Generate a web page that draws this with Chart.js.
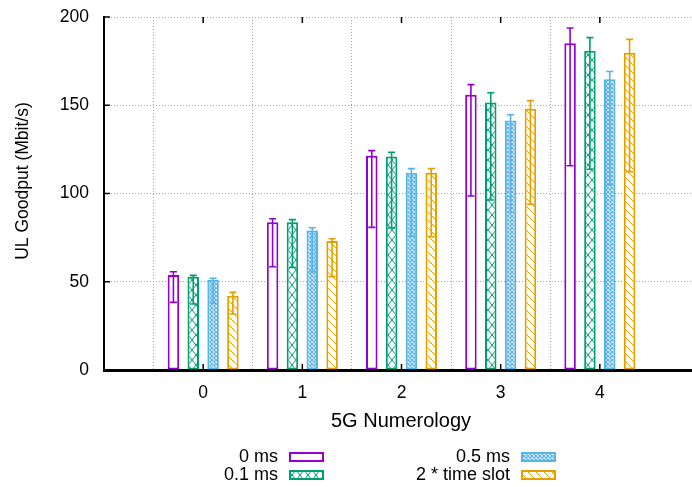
<!DOCTYPE html>
<html>
<head>
<meta charset="utf-8">
<script src="https://cdn.jsdelivr.net/npm/chart.js@4.4.1/dist/chart.umd.min.js"></script>
<style>
  html, body { margin: 0; padding: 0; background: #fff; overflow: hidden; }
  #wrap { position: relative; width: 712px; height: 487px; }
</style>
</head>
<body>
<div id="wrap"><canvas id="goodputChart" width="712" height="487"></canvas></div>
<script>
// UL goodput per 5G numerology, bars with min/max error bars
const numerologies = ['0', '1', '2', '3', '4'];
const seriesNames = ['0 ms', '0.1 ms', '0.5 ms', '2 * time slot'];
const seriesColors = ['#9400d3', '#009e73', '#56b4e9', '#e69f00'];
const yTicks = [0, 50, 100, 150, 200];

const goodput0 = [53.8, 83.7, 121.4, 156.0, 185.1];
const low0 = [38.3, 58.5, 80.8, 98.6, 115.7];
const high0 = [55.7, 85.7, 124.3, 161.7, 193.8];

const goodput01 = [52.8, 83.7, 120.9, 151.6, 180.9];
const low01 = [37.4, 58.1, 80.5, 96.3, 113.7];
const high01 = [53.6, 85.2, 123.3, 157.1, 188.3];

const goodput05 = [51.2, 79.1, 111.8, 141.4, 164.7];
const low05 = [37.8, 55.7, 75.9, 89.7, 104.8];
const high05 = [52.0, 80.6, 114.1, 144.6, 169.1];

const goodputSlot = [42.1, 73.1, 111.8, 148.0, 179.8];
const lowSlot = [31.7, 52.9, 75.5, 93.9, 112.4];
const highSlot = [44.0, 74.4, 114.1, 152.6, 187.3];

const FONT = '"Liberation Sans", Arial, sans-serif';
const values = [goodput0, goodput01, goodput05, goodputSlot];
const lows = [low0, low01, low05, lowSlot];
const highs = [high0, high01, high05, highSlot];
const fills = ['empty', 'cross', 'dense', 'diag'];

// empty categories at both ends give the -1 .. 5 range
const labels = ['', ...numerologies, ''];
const pad = arr => [null, ...arr, null];

function makePattern(kind, color) {
  if (kind === 'empty') return '#ffffff';
  const c = document.createElement('canvas');
  const size = { cross: [8, 10], dense: [4, 4], diag: [8, 8] }[kind];
  c.width = size[0]; c.height = size[1];
  const g = c.getContext('2d');
  g.fillStyle = '#fff';
  g.fillRect(0, 0, c.width, c.height);
  g.strokeStyle = color;
  g.lineWidth = kind === 'dense' ? 1.3 : 1;
  g.beginPath();
  if (kind === 'cross' || kind === 'dense') {
    g.moveTo(0, 0); g.lineTo(c.width, c.height);
    g.moveTo(c.width, 0); g.lineTo(0, c.height);
  } else {
    g.moveTo(-1, -1); g.lineTo(9, 9);
    g.moveTo(-1, 7); g.lineTo(1, 9);
    g.moveTo(7, -1); g.lineTo(9, 1);
  }
  g.stroke();
  return g.createPattern(c, 'repeat');
}

const errorBars = {
  id: 'errorBars',
  afterDatasetsDraw(chart) {
    const ctx = chart.ctx;
    const y = chart.scales.y;
    ctx.save();
    chart.data.datasets.forEach((ds, i) => {
      chart.getDatasetMeta(i).data.forEach((el, j) => {
        if (j === 0 || j === labels.length - 1) return;
        const yl = y.getPixelForValue(lows[i][j - 1]);
        const yh = y.getPixelForValue(highs[i][j - 1]);
        ctx.strokeStyle = seriesColors[i];
        ctx.lineWidth = 1.6;
        ctx.beginPath();
        ctx.moveTo(el.x, yl); ctx.lineTo(el.x, yh);
        ctx.moveTo(el.x - 3.5, yl); ctx.lineTo(el.x + 3.5, yl);
        ctx.moveTo(el.x - 3.5, yh); ctx.lineTo(el.x + 3.5, yh);
        ctx.stroke();
      });
    });
    ctx.restore();
  }
};

const frame = {
  id: 'frame',
  afterDraw(chart) {
    const ctx = chart.ctx;
    const area = chart.chartArea;
    const x = chart.scales.x, y = chart.scales.y;
    ctx.save();
    // inward tick marks
    ctx.strokeStyle = '#000';
    ctx.lineWidth = 1.5;
    ctx.beginPath();
    yTicks.forEach(v => {
      const py = y.getPixelForValue(v);
      ctx.moveTo(area.left, py); ctx.lineTo(area.left + 6, py);
    });
    numerologies.forEach((n, k) => {
      const px = x.getPixelForValue(k + 1);
      ctx.moveTo(px, area.bottom); ctx.lineTo(px, area.bottom - 6);
      ctx.moveTo(px, area.top); ctx.lineTo(px, area.top + 6);
    });
    ctx.stroke();

    // axis titles
    ctx.fillStyle = '#000';
    ctx.textAlign = 'center';
    ctx.textBaseline = 'middle';
    ctx.font = '20px ' + FONT;
    ctx.fillText('5G Numerology', 401, 421);
    ctx.save();
    ctx.font = '17.5px ' + FONT;
    ctx.translate(23, 181);
    ctx.rotate(-Math.PI / 2);
    ctx.fillText('UL Goodput (Mbit/s)', 0, 0);
    ctx.restore();

    // legend, two columns
    ctx.font = '18px ' + FONT;
    const cols = [[278, 289], [510, 521]];
    const rows = [457, 475];
    seriesNames.forEach((name, i) => {
      const col = cols[Math.floor(i / 2)], row = rows[i % 2];
      ctx.textAlign = 'right';
      ctx.fillStyle = '#000';
      ctx.fillText(name, col[0], row);
      ctx.fillStyle = chart.data.datasets[i].backgroundColor;
      ctx.fillRect(col[1], row - 5, 35, 10);
      ctx.strokeStyle = seriesColors[i];
      ctx.lineWidth = 2;
      ctx.strokeRect(col[1] + 1, row - 4, 33, 8);
    });
    ctx.restore();
  }
};

const chart = new Chart(document.getElementById('goodputChart'), {
  type: 'bar',
  data: {
    labels: labels,
    datasets: seriesNames.map((name, i) => ({
      label: name,
      data: pad(values[i]),
      backgroundColor: makePattern(fills[i], seriesColors[i]),
      borderColor: seriesColors[i],
      borderWidth: 2,
      borderSkipped: false,
      categoryPercentage: 0.8,
      barPercentage: 0.58
    }))
  },
  options: {
    responsive: false,
    animation: false,
    layout: { padding: { top: 17, right: 0, left: 0, bottom: 0 } },
    plugins: { legend: { display: false }, tooltip: { enabled: false } },
    scales: {
      x: {
        type: 'category',
        offset: false,
        grid: {
          color: c => (c.index === 0 || c.index === labels.length - 1) ? 'rgba(0,0,0,0)' : '#a8a8a8',
          lineWidth: 1,
          drawTicks: false
        },
        border: { display: true, color: '#000', width: 3, dash: [1, 2] },
        ticks: { color: '#000', font: { family: FONT, size: 17.5 }, padding: 13, autoSkip: false, maxRotation: 0 },
        afterFit: s => { s.height = 117; }
      },
      y: {
        min: 0,
        max: 200,
        afterBuildTicks: s => { s.ticks = yTicks.map(v => ({ value: v })); },
        grid: { color: '#a8a8a8', lineWidth: 1, drawTicks: false },
        border: { display: true, color: '#000', width: 2, dash: [1, 2] },
        ticks: { color: '#000', font: { family: FONT, size: 17.5, lineHeight: 0.2 }, padding: 15 },
        afterFit: s => { s.width = 104; }
      }
    }
  },
  plugins: [errorBars, frame]
});
</script>
</body>
</html>
